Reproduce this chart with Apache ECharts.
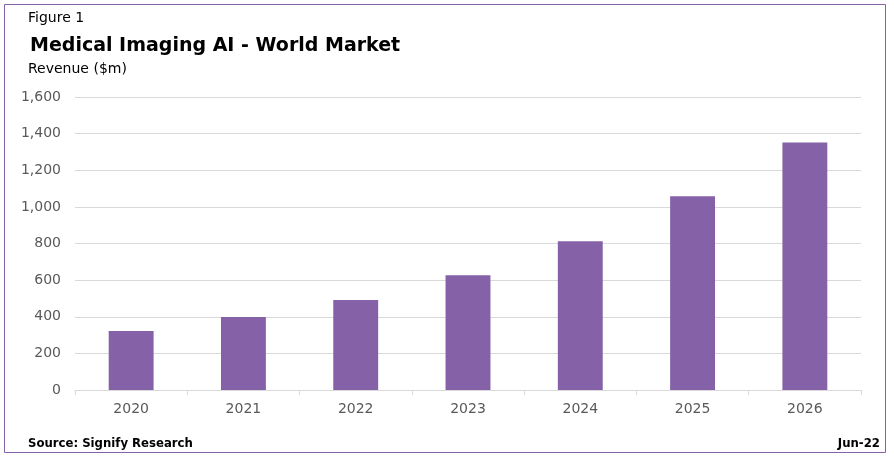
<!DOCTYPE html>
<html>
<head>
<meta charset="utf-8">
<script src="https://cdn.jsdelivr.net/npm/echarts@6/dist/echarts.min.js"></script>
<style>
  html, body { margin: 0; padding: 0; background: #fff; }
  #chart { width: 894px; height: 457px; }
</style>
</head>
<body>
<div id="chart"></div>
<script>
const years = ['2020', '2021', '2022', '2023', '2024', '2025', '2026']
const revenue = [322, 398, 491, 627, 812, 1058, 1352]
const yTicks = { min: 0, max: 1600, interval: 200 }

const purple = '#8562a7'
const font = 'Tahoma, "DejaVu Sans", sans-serif'
const footFont = '"DejaVu Sans Condensed", ' + font

const myChart = echarts.init(document.getElementById('chart'), null, { renderer: 'canvas' })

const option = {
  backgroundColor: '#fff',
  animation: false,
  title: [
    { text: 'Figure 1', left: 23, top: 6, textStyle: { fontFamily: font, fontSize: 14, fontWeight: 'normal', color: '#000' } },
    { text: 'Medical Imaging AI - World Market', left: 25, top: 32, textStyle: { fontFamily: font, fontSize: 19, fontWeight: 'bold', color: '#000' } },
    { text: 'Revenue ($m)', left: 23, top: 57, textStyle: { fontFamily: font, fontSize: 14, fontWeight: 'normal', color: '#000' } },
    { text: 'Source: Signify Research', left: 23, top: 432, textStyle: { fontFamily: footFont, fontSize: 13, fontWeight: 'bold', color: '#000' } },
    { text: 'Jun-22', right: 9, top: 432, textStyle: { fontFamily: footFont, fontSize: 13, fontWeight: 'bold', color: '#000' } }
  ],
  graphic: [
    {
      type: 'rect',
      shape: { x: 4.5, y: 4.5, width: 881, height: 448 },
      style: { fill: 'none', stroke: purple, lineWidth: 1 },
      z: 100
    }
  ],
  grid: { left: 75, right: 33, top: 97, bottom: 67 },
  xAxis: {
    type: 'category',
    data: years,
    axisLine: { lineStyle: { color: '#d9d9d9', width: 1 } },
    axisTick: { show: true, length: 5, lineStyle: { color: '#d9d9d9' } },
    axisLabel: { fontFamily: font, fontSize: 14, color: '#595959', margin: 12 }
  },
  yAxis: {
    type: 'value',
    min: yTicks.min,
    max: yTicks.max,
    interval: yTicks.interval,
    axisLine: { show: false },
    axisTick: { show: false },
    splitLine: { lineStyle: { color: '#d9d9d9', width: 1 } },
    axisLabel: {
      fontFamily: font, fontSize: 14, color: '#595959', margin: 14,
      formatter: v => v.toLocaleString('en-US')
    }
  },
  series: [
    {
      type: 'bar',
      data: revenue,
      barWidth: '40%',
      itemStyle: { color: purple }
    }
  ]
}

myChart.setOption(option)
</script>
</body>
</html>
